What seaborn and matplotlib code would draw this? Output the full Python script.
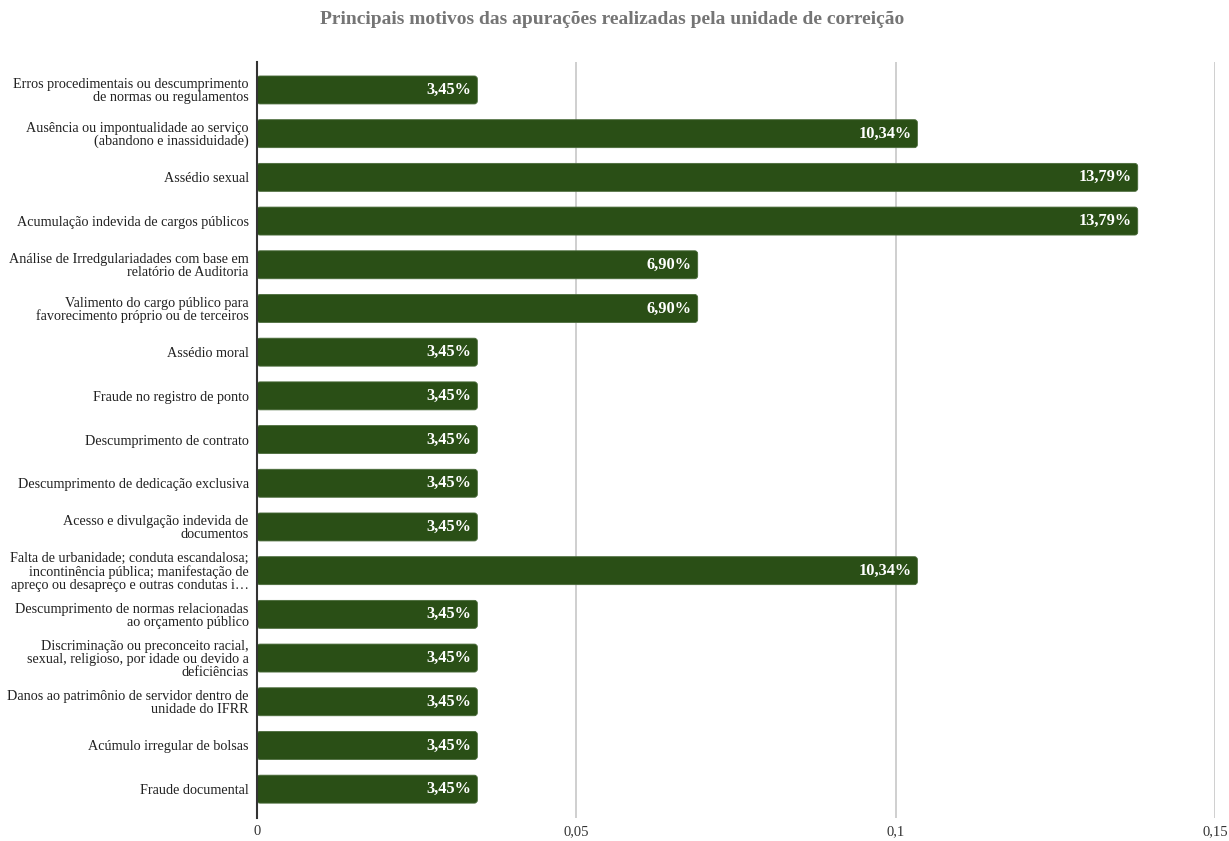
import pandas as pd
import seaborn as sns
import matplotlib.pyplot as plt
from matplotlib.patches import FancyBboxPatch

# categories (with the line breaks used on the chart)
categorias = [
    'Erros procedimentais ou descumprimento\nde normas ou regulamentos',
    'Ausência ou impontualidade ao serviço\n(abandono e inassiduidade)',
    'Assédio sexual',
    'Acumulação indevida de cargos públicos',
    'Análise de Irredgulariadades com base em\nrelatório de Auditoria',
    'Valimento do cargo público para\nfavorecimento próprio ou de terceiros',
    'Assédio moral',
    'Fraude no registro de ponto',
    'Descumprimento de contrato',
    'Descumprimento de dedicação exclusiva',
    'Acesso e divulgação indevida de\ndocumentos',
    'Falta de urbanidade; conduta escandalosa;\nincontinência pública; manifestação de\napreço ou desapreço e outras condutas i…',
    'Descumprimento de normas relacionadas\nao orçamento público',
    'Discriminação ou preconceito racial,\nsexual, religioso, por idade ou devido a\ndeficiências',
    'Danos ao patrimônio de servidor dentro de\nunidade do IFRR',
    'Acúmulo irregular de bolsas',
    'Fraude documental',
]
valores = [0.0345, 0.1034, 0.1379, 0.1379, 0.0690, 0.0690, 0.0345, 0.0345, 0.0345,
           0.0345, 0.0345, 0.1034, 0.0345, 0.0345, 0.0345, 0.0345, 0.0345]
rotulos = ['3,45%', '10,34%', '13,79%', '13,79%', '6,90%', '6,90%', '3,45%', '3,45%', '3,45%',
           '3,45%', '3,45%', '10,34%', '3,45%', '3,45%', '3,45%', '3,45%', '3,45%']
xticks = [0, 0.05, 0.1, 0.15]
xticklabels = ['0', '0,05', '0,1', '0,15']

cor = '#2a4f16'

sns.set_theme(style='white')
plt.rcParams['font.family'] = ['Liberation Serif', 'DejaVu Serif']

df = pd.DataFrame({'motivo': categorias, 'valor': valores})

fig = plt.figure(figsize=(12.29, 8.41), dpi=100)
ax = fig.add_axes([257 / 1229, 1 - 818 / 841, (1215 - 257) / 1229, (818 - 62) / 841])

sns.barplot(data=df, x='valor', y='motivo', color=cor, saturation=1, width=0.64, ax=ax)

ax.set_xlim(0, 0.15)
ax.set_ylim(16.66, -0.64)

# swap bars for rounded ones
xpp = 0.15 / 958
ypp = 17.3 / 756
for p in list(ax.patches):
    x, y = p.get_x(), p.get_y()
    w, h = p.get_width(), p.get_height()
    p.remove()
    fb = FancyBboxPatch((x, y), w, h, boxstyle='round,pad=0,rounding_size=%g' % (3 * xpp),
                        mutation_aspect=ypp / xpp, facecolor=cor, edgecolor='#4a6b3a',
                        linewidth=0.6, zorder=3)
    ax.add_patch(fb)

for i, (v, t) in enumerate(zip(valores, rotulos)):
    ax.text(v - 6 * xpp, i, t, ha='right', va='center', color='white',
            fontsize=11.8, fontweight='bold', zorder=4)

ax.set_xticks(xticks)
ax.set_xticklabels(xticklabels, fontsize=10.5, color='#333333')
ax.tick_params(axis='x', length=0, pad=5)
ax.tick_params(axis='y', length=0, pad=6)
for lbl in ax.get_yticklabels():
    lbl.set_fontsize(10.2)
    lbl.set_color('#222222')
    lbl.set_linespacing(1.0)

ax.xaxis.grid(True, color='#cccccc', linewidth=1.3)
ax.yaxis.grid(False)
ax.set_axisbelow(True)
for s in ['top', 'right', 'bottom']:
    ax.spines[s].set_visible(False)
ax.spines['left'].set_color('#333333')
ax.spines['left'].set_linewidth(1.5)
ax.spines['left'].set_zorder(5)
ax.set_xlabel('')
ax.set_ylabel('')

fig.text(612 / 1229, 1 - 20 / 841, 'Principais motivos das apurações realizadas pela unidade de correição',
         ha='center', va='center', fontsize=14, fontweight='bold', color='#757575')

fig.savefig('out.png', dpi=100)
